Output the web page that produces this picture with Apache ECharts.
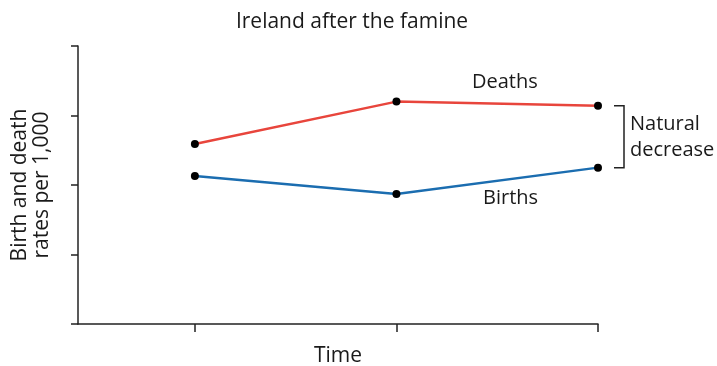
<!DOCTYPE html>
<html>
<head>
<meta charset="utf-8">
<script src="https://cdn.jsdelivr.net/npm/echarts@6/dist/echarts.min.js"></script>
<style>html,body{margin:0;padding:0;background:#fff;}#c{width:717px;height:366px;}</style>
</head>
<body>
<div id="c"></div>
<script>
var periods = [0, 1, 2];
var deaths = [2.59, 3.20, 3.14];
var births = [2.13, 1.87, 2.25];
var yTicks = [0, 1, 2, 3, 4];
var titleText = 'Ireland after the famine';
var yName = 'Birth and death\nrates per 1,000';
var xName = 'Time';

var FONT = 'Open Sans';
var chart = echarts.init(document.getElementById('c'), null, {renderer: 'canvas'});

var dPts = periods.map(function (p, i) { return [p, deaths[i]]; });
var bPts = periods.map(function (p, i) { return [p, births[i]]; });
var last = periods.length - 1;

chart.setOption({
  animation: false,
  backgroundColor: '#fff',
  title: {
    text: titleText, left: 347, top: 7, textAlign: 'center',
    textStyle: {fontFamily: FONT, fontSize: 21, fontWeight: 'normal', color: '#1a1a1a'}
  },
  grid: {left: 78, right: 119, top: 46, bottom: 42, containLabel: false, outerBoundsMode: 'none'},
  xAxis: {
    type: 'value', min: -0.58, max: 2,
    name: xName, nameLocation: 'middle', nameGap: 22,
    nameTextStyle: {fontFamily: FONT, fontSize: 21, color: '#1a1a1a'},
    axisLine: {show: true, onZero: false, lineStyle: {color: '#222', width: 1.5}},
    axisTick: {show: true, length: 8, customValues: periods, lineStyle: {color: '#222', width: 1.5}},
    axisLabel: {show: false},
    splitLine: {show: false}
  },
  yAxis: {
    type: 'value', min: yTicks[0], max: yTicks[yTicks.length - 1], interval: 1,
    name: yName, nameLocation: 'middle', nameGap: 25, nameRotate: 90,
    nameTextStyle: {fontFamily: FONT, fontSize: 21, color: '#1a1a1a', lineHeight: 22, align: 'center'},
    axisLine: {show: true, onZero: false, lineStyle: {color: '#222', width: 1.5}},
    axisTick: {show: true, length: 7, lineStyle: {color: '#222', width: 1.5}},
    axisLabel: {show: false},
    splitLine: {show: false}
  },
  series: [
    {
      type: 'line', name: 'Deaths', data: dPts,
      lineStyle: {color: '#e8453c', width: 2.5},
      symbol: 'circle', symbolSize: 8, itemStyle: {color: '#000'}, z: 3
    },
    {
      type: 'line', name: 'Births', data: bPts,
      lineStyle: {color: '#1b6db0', width: 2.5},
      symbol: 'circle', symbolSize: 8, itemStyle: {color: '#000'}, z: 3
    },
    {
      type: 'custom', name: 'bracket', silent: true,
      data: [[periods[last], deaths[last], births[last]]],
      renderItem: function (params, api) {
        var top = api.coord([api.value(0), api.value(1)]);
        var bot = api.coord([api.value(0), api.value(2)]);
        var x = top[0] + 26;
        return {
          type: 'polyline',
          shape: {points: [[x - 10, top[1]], [x, top[1]], [x, bot[1]], [x - 10, bot[1]]]},
          style: {stroke: '#222', lineWidth: 1.5, fill: null}
        };
      }
    }
  ],
  graphic: [
    {type: 'text', left: 472, top: 72, style: {text: 'Deaths', font: '20px "' + FONT + '"', fill: '#1a1a1a'}},
    {type: 'text', left: 483, top: 188, style: {text: 'Births', font: '20px "' + FONT + '"', fill: '#1a1a1a'}},
    {type: 'text', left: 630, top: 111, style: {text: 'Natural\ndecrease', font: '20px "' + FONT + '"', fill: '#1a1a1a', lineHeight: 26}}
  ]
});
</script>
</body>
</html>
